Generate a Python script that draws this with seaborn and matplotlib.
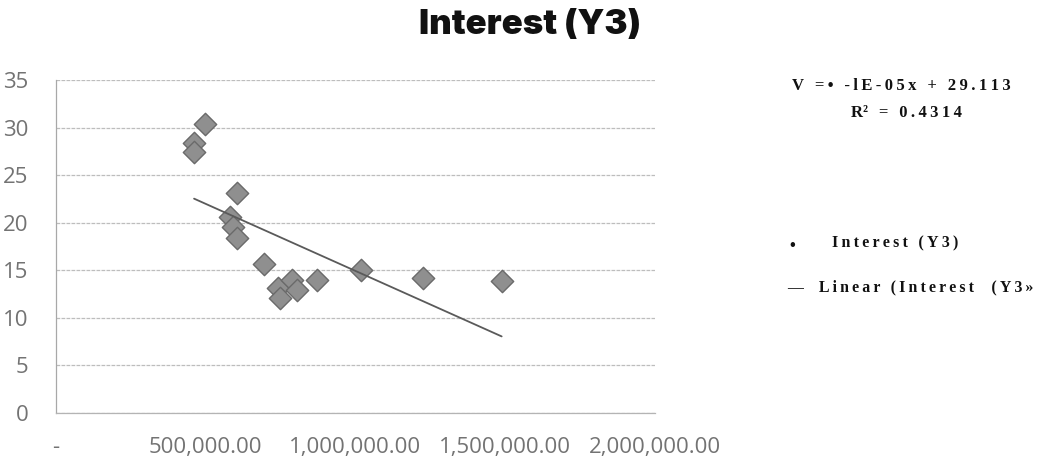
import matplotlib
matplotlib.use("Agg")
import matplotlib.pyplot as plt
import numpy as np
import pandas as pd
import seaborn as sns
from matplotlib.ticker import FixedLocator, FixedFormatter

# Loan amount vs. interest observations
amount = [461000, 461000, 497000, 603000, 581000, 591000, 604000, 696000,
          742000, 748000, 787000, 804000, 870000, 1017000, 1226000, 1488000]
interest = [28.4, 27.4, 30.4, 23.1, 20.6, 19.6, 18.4, 15.7,
            13.1, 12.1, 14.0, 12.9, 14.0, 15.0, 14.2, 13.9]

x_ticks = [0, 500000, 1000000, 1500000, 2000000]
x_tick_labels = ["-", "500,000.00", "1,000,000.00", "1,500,000.00", "2,000,000.00"]
y_ticks = [0, 5, 10, 15, 20, 25, 30, 35]
y_tick_labels = ["0", "5", "10", "15", "20", "25", "30", "35"]

title = "Interest (Y3)"
equation = "V =• -lE-05x + 29.113"
r_squared = "R² = 0.4314"
legend_points = "Interest (Y3)"
legend_line = "Linear (Interest  (Y3»"

df = pd.DataFrame({"amount": amount, "interest": interest})

sns.set_style("white")
plt.rcParams["font.family"] = ["Open Sans", "DejaVu Sans"]

W, H = 1043, 462
fig = plt.figure(figsize=(W / 100, H / 100), dpi=100)
ax = fig.add_axes([56 / W, 1 - 413 / H, (655 - 56) / W, (413 - 80) / H])

sns.regplot(
    data=df, x="amount", y="interest", ax=ax, ci=None, truncate=True,
    marker="D", color="#8f8f8f",
    scatter_kws=dict(s=130, edgecolors="#6a6a6a", linewidths=1.0, alpha=1, zorder=2),
    line_kws=dict(color="#5a5a5a", lw=1.3, zorder=3),
)

ax.set_xlim(0, 2000000)
ax.set_ylim(0, 35)
ax.xaxis.set_major_locator(FixedLocator(x_ticks))
ax.xaxis.set_major_formatter(FixedFormatter(x_tick_labels))
ax.yaxis.set_major_locator(FixedLocator(y_ticks))
ax.yaxis.set_major_formatter(FixedFormatter(y_tick_labels))
ax.set_xlabel("")
ax.set_ylabel("")

ax.yaxis.grid(True, color="#bdbdbd", lw=0.9, linestyle=(0, (3, 1)))
ax.xaxis.grid(False)
for side in ("top", "right"):
    ax.spines[side].set_visible(False)
ax.spines["left"].set_color("#a8a8a8")
ax.spines["bottom"].set_color("#b4b4b4")
ax.spines["left"].set_linewidth(0.9)
ax.spines["bottom"].set_linewidth(0.9)

ax.tick_params(axis="y", length=7, width=0.9, color="#b0b0b0", pad=13,
               labelsize=16, labelcolor="#737373")
ax.tick_params(axis="x", length=5, width=0.9, color="#a0a0a0", pad=12,
               labelsize=16, labelcolor="#737373")

fig.text(530 / W, 1 - 25 / H, title, ha="center", va="center",
         fontsize=25, fontfamily="Inter", fontweight="black", color="#111111")


def spaced(s):
    return "\u2009".join(s)


serif = dict(fontfamily=["Liberation Serif", "DejaVu Serif"], fontweight="bold",
             color="#111111")
fig.text(901 / W, 1 - 86 / H, spaced(equation), ha="center", va="center",
         fontsize=12, **serif)
fig.text(906 / W, 1 - 113 / H, "R²" + "\u2009" + spaced(r_squared[2:]),
         ha="center", va="center", fontsize=12, **serif)
fig.text(792 / W, 1 - 246 / H, "•", ha="center", va="center", fontsize=12, **serif)
fig.text(832 / W, 1 - 243 / H, spaced(legend_points), ha="left", va="center",
         fontsize=11.5, **serif)
fig.text(787 / W, 1 - 287 / H, "—    " + spaced(legend_line), ha="left", va="center",
         fontsize=11.4, **serif)

fig.savefig("out.png", dpi=100, facecolor="white")
